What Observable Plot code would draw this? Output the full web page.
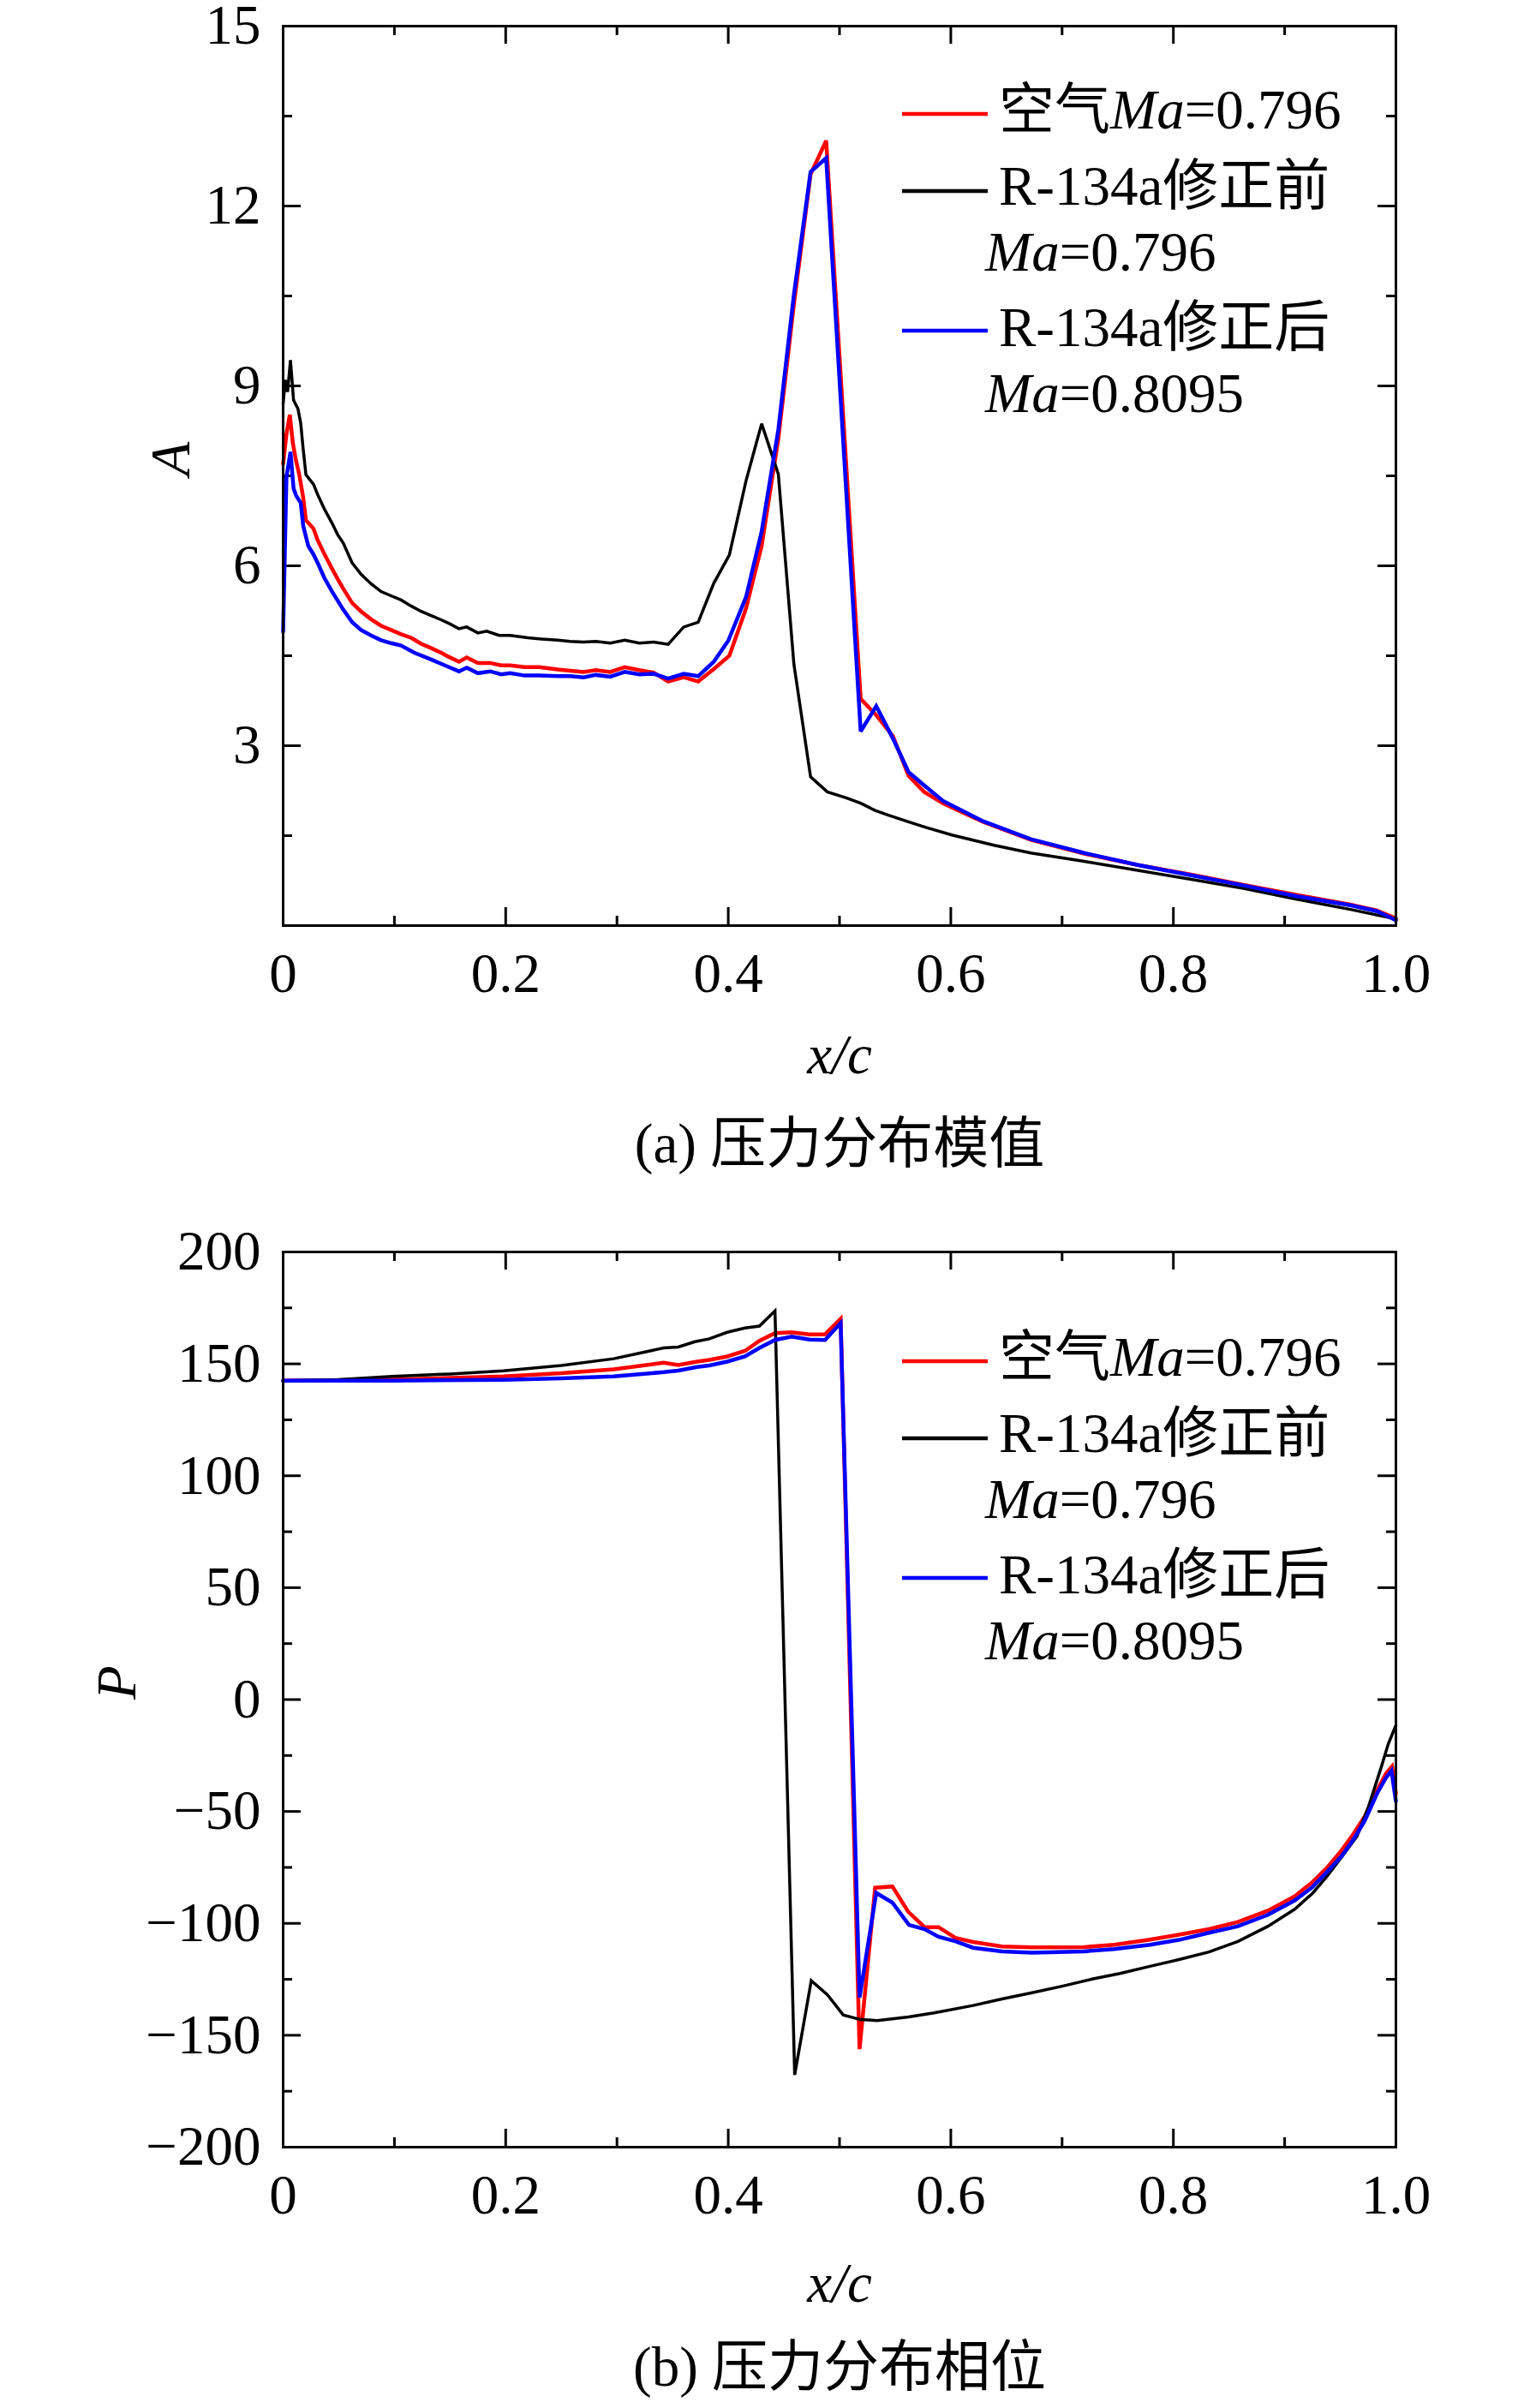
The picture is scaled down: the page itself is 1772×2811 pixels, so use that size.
<!DOCTYPE html>
<html><head><meta charset="utf-8">
<script src="https://cdn.jsdelivr.net/npm/d3@7"></script>
<script src="https://cdn.jsdelivr.net/npm/@observablehq/plot@0.6"></script>
<style>
html,body{margin:0;padding:0;background:#fff;}
#wrap{position:relative;width:1772px;height:2811px;background:#fff;overflow:hidden;}
</style></head><body><div id="wrap"></div>
<script>
// ---------------- data: (a) amplitude A ----------------
const aAirX = [0,0.003,0.006,0.0087,0.0115,0.0145,0.018,0.0205,0.0273,0.031,0.037,0.044,0.049,0.054,0.062,0.070,0.079,0.088,0.097,0.106,0.115,0.124,0.134,0.142,0.149,0.158,0.165,0.175,0.186,0.196,0.204,0.217,0.230,0.2467,0.258,0.270,0.281,0.294,0.307,0.320,0.333,0.346,0.360,0.373,0.387,0.401,0.416,0.430,0.445,0.459,0.474,0.488,0.519,0.533,0.548,0.562,0.576,0.593,0.629,0.672,0.720,0.768,0.816,0.863,0.911,0.959,0.983,1.0];
const aAirY = [7.7,8.2,8.52,8.05,7.76,7.52,7.14,6.76,6.62,6.43,6.2,5.95,5.78,5.62,5.38,5.24,5.11,5.00,4.93,4.86,4.80,4.70,4.62,4.55,4.48,4.40,4.47,4.38,4.38,4.34,4.34,4.31,4.31,4.27,4.25,4.23,4.26,4.23,4.31,4.26,4.22,4.07,4.14,4.07,4.28,4.50,5.29,6.33,8.12,10.36,12.53,13.09,3.78,3.51,3.16,2.50,2.23,2.04,1.73,1.43,1.20,1.01,0.85,0.68,0.51,0.35,0.25,0.12];

const aPreX = [0,0.002,0.004,0.0066,0.0094,0.0133,0.0158,0.018,0.0205,0.0273,0.031,0.037,0.044,0.049,0.054,0.062,0.070,0.079,0.088,0.097,0.106,0.115,0.124,0.133,0.142,0.150,0.158,0.165,0.175,0.183,0.194,0.204,0.220,0.232,0.2467,0.258,0.270,0.281,0.294,0.307,0.320,0.333,0.346,0.360,0.373,0.387,0.401,0.416,0.430,0.445,0.459,0.474,0.489,0.506,0.519,0.532,0.544,0.562,0.577,0.601,0.639,0.672,0.720,0.768,0.816,0.863,0.911,0.959,1.0];
const aPreY = [8.7,9.1,8.9,9.43,8.76,8.62,8.38,7.95,7.52,7.36,7.19,6.95,6.71,6.52,6.38,6.05,5.86,5.70,5.57,5.50,5.43,5.33,5.24,5.17,5.10,5.03,4.95,4.98,4.88,4.91,4.84,4.84,4.80,4.78,4.76,4.74,4.73,4.74,4.71,4.76,4.71,4.73,4.69,4.98,5.06,5.71,6.18,7.42,8.37,7.53,4.36,2.48,2.23,2.13,2.04,1.92,1.84,1.73,1.64,1.51,1.34,1.21,1.07,0.92,0.77,0.62,0.44,0.27,0.11];

const aPostX = [0,0.003,0.0066,0.0094,0.0117,0.0158,0.018,0.0226,0.0273,0.031,0.037,0.044,0.049,0.054,0.062,0.070,0.079,0.088,0.097,0.106,0.118,0.134,0.149,0.158,0.165,0.175,0.186,0.196,0.204,0.217,0.230,0.2467,0.258,0.270,0.281,0.294,0.307,0.320,0.333,0.346,0.360,0.373,0.387,0.400,0.416,0.430,0.445,0.459,0.474,0.488,0.519,0.533,0.548,0.562,0.576,0.593,0.629,0.672,0.720,0.768,0.816,0.863,0.911,0.959,0.983,1.0];
const aPostY = [4.9,7.48,7.90,7.29,7.17,7.05,6.67,6.33,6.19,6.05,5.80,5.57,5.42,5.27,5.06,4.93,4.84,4.76,4.71,4.67,4.55,4.43,4.31,4.24,4.30,4.21,4.24,4.19,4.21,4.17,4.17,4.16,4.16,4.14,4.18,4.15,4.23,4.19,4.20,4.12,4.20,4.16,4.40,4.75,5.48,6.57,8.27,10.52,12.57,12.80,3.24,3.66,3.12,2.56,2.34,2.08,1.74,1.44,1.21,1.01,0.84,0.67,0.49,0.34,0.24,0.09];

// ---------------- data: (b) phase P ----------------
const pAirX = [0,0.098,0.198,0.25,0.297,0.342,0.355,0.372,0.383,0.399,0.415,0.428,0.442,0.457,0.473,0.487,0.501,0.518,0.532,0.5475,0.5618,0.5765,0.589,0.604,0.620,0.646,0.673,0.720,0.747,0.779,0.805,0.832,0.858,0.885,0.909,0.925,0.938,0.951,0.962,0.972,0.983,0.991,0.9965,1.0];
const pAirY = [142.5,143.0,144.4,145.8,147.6,150.5,149.5,151.0,151.8,153.3,155.8,160.3,163.7,164.1,163.2,163.2,170.1,-156.2,-84.1,-83.5,-94.9,-101.7,-101.7,-106.5,-108.3,-110.3,-110.7,-110.6,-109.6,-107.3,-105.1,-102.6,-99.4,-94.3,-87.9,-81.6,-75.2,-67.5,-59.9,-52.2,-40.7,-33.1,-29.9,-42];

const pPreX = [0,0.05,0.098,0.15,0.198,0.25,0.297,0.342,0.355,0.37,0.383,0.399,0.415,0.428,0.442,0.4597,0.4746,0.4892,0.5033,0.5187,0.534,0.562,0.585,0.620,0.646,0.673,0.700,0.727,0.752,0.779,0.805,0.832,0.858,0.885,0.909,0.925,0.938,0.951,0.965,0.975,0.987,0.993,1.0];
const pPreY = [142.5,143.0,144.4,145.5,146.9,149.3,152.3,157.1,157.5,159.9,161.2,164.1,166.0,166.9,173.7,-167.7,-125.6,-131.9,-140.9,-143.0,-143.4,-141.8,-140.0,-136.7,-133.8,-131.0,-128.1,-124.9,-122.4,-119.2,-116.2,-112.8,-108.1,-101.3,-93.7,-86.6,-79.0,-70.5,-61.1,-48.4,-29.9,-20,-11.4];

const pPostX = [0,0.098,0.198,0.25,0.297,0.342,0.355,0.372,0.383,0.399,0.415,0.428,0.442,0.457,0.473,0.487,0.501,0.518,0.533,0.5475,0.5624,0.5765,0.589,0.604,0.620,0.646,0.673,0.720,0.747,0.779,0.805,0.832,0.858,0.885,0.909,0.925,0.938,0.951,0.962,0.972,0.983,0.991,0.996,1.0];
const pPostY = [142.5,142.5,142.9,143.5,144.4,146.3,147.0,148.6,149.3,151.0,153.3,157.1,160.7,162.2,160.9,160.7,168.2,-133.2,-86.4,-90.7,-100.7,-102.6,-106.0,-108.0,-110.9,-112.5,-113.1,-112.5,-111.5,-109.6,-107.4,-104.2,-101.3,-96.2,-89.8,-83.8,-77.1,-70.1,-62.4,-54.1,-42.0,-35.0,-31.8,-45.5];

// ---------------- ticks & labels ----------------
const xMajor = [0, 0.2, 0.4, 0.6, 0.8, 1.0];
const xMinor = [0.1, 0.3, 0.5, 0.7, 0.9];
const aYMajor = [3, 6, 9, 12, 15];
const aYMinor = [1.5, 4.5, 7.5, 10.5, 13.5];
const pYMajor = [-200, -150, -100, -50, 0, 50, 100, 150, 200];
const pYMinor = [-175, -125, -75, -25, 25, 75, 125, 175];
const seriesNames = ["空气", "R-134a修正前", "R-134a修正后"];
const machLabels = ["0.796", "0.796", "0.8095"];
const seriesColors = ["#ff0000", "#000000", "#0000ff"];
const captions = ["(a) 压力分布模值", "(b) 压力分布相位"];
const yLabels = ["A", "P"];

const FONT = '"Liberation Serif","Times New Roman","Noto Sans CJK SC",serif';
const W = 1772, ML = 330, MR = 143;

function panel(opts) {
  const {top, height, marginTop, marginBottom, yDomain, yMajor, yMinor, yLabel, yLabelDx, xLabelDy, captionDy, caption, series} = opts;
  const plotH = height - marginTop - marginBottom;
  const plotW = W - ML - MR;
  const MAJ = 21, MIN = 11, TW = 3;
  const fmtX = d => d === 0 ? "0" : d.toFixed(1);
  const fmtY = d => String(d).replace("-", "\u2212");
  const marks = [
    // inward ticks: bottom, top, left, right
    Plot.tickX(xMajor, {x: d => d, insetTop: plotH - MAJ, strokeWidth: TW}),
    Plot.tickX(xMinor, {x: d => d, insetTop: plotH - MIN, strokeWidth: TW}),
    Plot.tickX(xMajor, {x: d => d, insetBottom: plotH - MAJ, strokeWidth: TW}),
    Plot.tickX(xMinor, {x: d => d, insetBottom: plotH - MIN, strokeWidth: TW}),
    Plot.tickY(yMajor, {y: d => d, insetRight: plotW - MAJ, strokeWidth: TW}),
    Plot.tickY(yMinor, {y: d => d, insetRight: plotW - MIN, strokeWidth: TW}),
    Plot.tickY(yMajor, {y: d => d, insetLeft: plotW - MAJ, strokeWidth: TW}),
    Plot.tickY(yMinor, {y: d => d, insetLeft: plotW - MIN, strokeWidth: TW}),
    Plot.axisX(xMajor, {tickSize: 0, tickPadding: 31, tickFormat: fmtX, label: null, fontSize: 65}),
    Plot.axisY(yMajor, {tickSize: 0, tickPadding: 26, tickFormat: fmtY, label: null, fontSize: 65}),
    Plot.text([yLabel], {frameAnchor: "left", dx: yLabelDx, rotate: -90, fontStyle: "italic", fontSize: 65}),
    Plot.text(["x/c"], {frameAnchor: "bottom", dy: xLabelDy, fontStyle: "italic", fontSize: 65}),
    Plot.text([caption], {frameAnchor: "bottom", dy: captionDy, fontSize: 65})
  ];
  for (const s of series) {
    marks.push(Plot.line(s.y, {x: s.x, y: s.y, stroke: s.color, strokeWidth: s.w, strokeLinejoin: "miter", strokeMiterlimit: 3}));
  }
  marks.push(Plot.frame({strokeWidth: TW}));
  const svg = Plot.plot({
    width: W, height, marginLeft: ML, marginRight: MR, marginTop, marginBottom,
    x: {domain: [0, 1], axis: null},
    y: {domain: yDomain, axis: null},
    style: {fontFamily: FONT, fontSize: "65px", background: "transparent", overflow: "visible", color: "#000"},
    marks
  });
  svg.style.position = "absolute";
  svg.style.left = "0px";
  svg.style.top = top + "px";
  document.getElementById("wrap").appendChild(svg);
}

panel({
  top: 0, height: 1400, marginTop: 30, marginBottom: 320,
  yDomain: [0, 15], yMajor: aYMajor, yMinor: aYMinor, yLabel: yLabels[0], yLabelDx: -130,
  xLabelDy: 172, captionDy: 276, caption: captions[0],
  series: [
    {x: aAirX, y: aAirY, color: seriesColors[0], w: 4.5},
    {x: aPreX, y: aPreY, color: seriesColors[1], w: 3.5},
    {x: aPostX, y: aPostY, color: seriesColors[2], w: 4.5}
  ]
});
panel({
  top: 1400, height: 1411, marginTop: 61, marginBottom: 305,
  yDomain: [-200, 200], yMajor: pYMajor, yMinor: pYMinor, yLabel: yLabels[1], yLabelDx: -193,
  xLabelDy: 180, captionDy: 278, caption: captions[1],
  series: [
    {x: pAirX, y: pAirY, color: seriesColors[0], w: 4.5},
    {x: pPreX, y: pPreY, color: seriesColors[1], w: 3.5},
    {x: pPostX, y: pPostY, color: seriesColors[2], w: 4.5}
  ]
});

// ---------------- legends (overlay) ----------------
const overlay = d3.select("#wrap").append("svg")
  .attr("width", W).attr("height", 2811)
  .style("position", "absolute").style("left", "0px").style("top", "0px")
  .style("font-family", FONT).style("font-size", "65px");

function legend(y0) {
  // y0: y of first legend line sample
  const lineY = [y0, y0 + 90, y0 + 253];
  const rows = [
    {y: y0 + 16.5, x: 1166, parts: [[seriesNames[0], false], ["Ma", true], ["=" + machLabels[0], false]]},
    {y: y0 + 105.6, x: 1166, parts: [[seriesNames[1], false]]},
    {y: y0 + 182.8, x: 1150, parts: [["Ma", true], ["=" + machLabels[1], false]]},
    {y: y0 + 270.5, x: 1166, parts: [[seriesNames[2], false]]},
    {y: y0 + 347.7, x: 1150, parts: [["Ma", true], ["=" + machLabels[2], false]]}
  ];
  lineY.forEach((ly, i) => {
    overlay.append("line").attr("x1", 1053).attr("x2", 1153).attr("y1", ly).attr("y2", ly)
      .attr("stroke", seriesColors[i]).attr("stroke-width", 4.5);
  });
  rows.forEach(r => {
    const t = overlay.append("text").attr("x", r.x).attr("y", r.y).attr("fill", "#000");
    r.parts.forEach(([s, it]) => t.append("tspan").attr("font-style", it ? "italic" : "normal").text(s));
  });
}
legend(133);
legend(1589);
</script>
</body></html>
